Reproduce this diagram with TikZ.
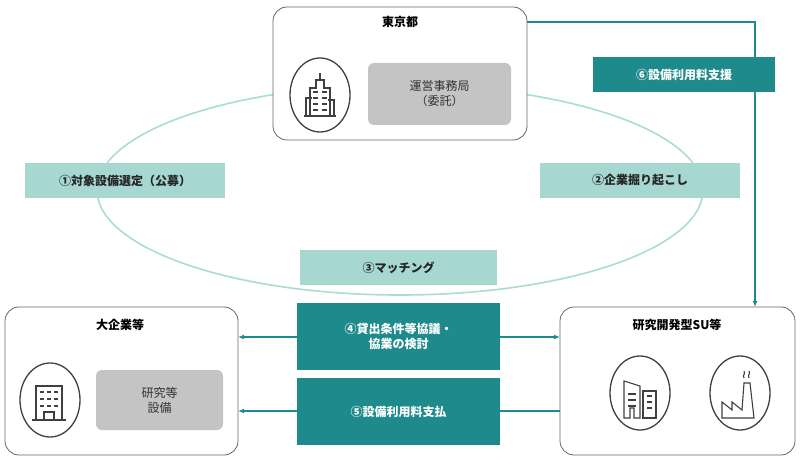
\documentclass[tikz,border=0pt]{standalone}
\usepackage{fontspec}
\setmainfont{Noto Sans CJK JP}
\usetikzlibrary{arrows.meta}
\definecolor{dteal}{HTML}{1E8A8C}
\definecolor{lteal}{HTML}{A6D8D1}
\definecolor{ell}{HTML}{A9DCD5}
\definecolor{gbox}{HTML}{C4C4C4}
\definecolor{ic}{HTML}{404040}
\begin{document}
\begin{tikzpicture}[x=1pt,y=-1pt,
 party/.style={draw=gray!80!black,rounded corners=14pt,line width=0.8pt},
 lbl/.style={fill=lteal,minimum height=35pt,font=\fontsize{12}{14}\selectfont\bfseries,text=black!85},
 dbox/.style={fill=dteal,text=white,font=\fontsize{12}{15}\selectfont\bfseries,align=center},
 gray box/.style={fill=gbox,rounded corners=6pt,align=center,font=\fontsize{12}{15}\selectfont,text=black!80},
 icon/.style={draw=ic,line width=1.3pt},
 conn/.style={draw=dteal,line width=1.2pt,-{Latex[length=6pt,width=5pt]}},
 ttl/.style={font=\fontsize{12}{14}\selectfont\bfseries}]
\useasboundingbox (0,0) rectangle (800,465);
% big ellipse
\draw[ell,line width=1.6pt] (400,190) ellipse [x radius=303,y radius=105];
% Tokyo
\draw[party,fill=white] (273,7) rectangle (527,140);
\node[ttl] (tokyo) at (400,22) {東京都};
\node[gray box,minimum width=143pt,minimum height=62pt] (jimu) at (439.5,94) {運営事務局\\（委託）};
\draw[icon] (320,95) ellipse [x radius=30,y radius=37];
\begin{scope}[icon,line width=1.1pt]
\draw (310,116) -- (310,88) -- (316,88) -- (316,80) -- (324,80) -- (324,88) -- (330,88) -- (330,116);
\draw (320,80) -- (320,73);
\draw (306,116) -- (306,98) -- (312,98); \draw (334,116)--(334,100)--(328,100);
\draw (304,116) -- (336,116);
\foreach \yy in {92,98,104,110}{\draw (313,\yy)--(318,\yy); \draw (322,\yy)--(327,\yy);}
\end{scope}
% labels
\node[lbl,minimum width=200pt] (l1) at (125,180.5) {①対象設備選定（公募）};
\node[lbl,minimum width=200pt] (l2) at (640,180.5) {②企業掘り起こし};
\node[lbl,minimum width=197pt] (l3) at (398.5,267.5) {③マッチング};
% left party
\draw[party,fill=white] (5,307) rectangle (238,455);
\coordinate (leftE4) at (238,337);
\coordinate (leftE5) at (238,411);
\node[ttl] (big) at (120,325) {大企業等};
\node[gray box,minimum width=127pt,minimum height=60pt] (setsubi) at (159.5,400) {研究等\\設備};
\draw[icon] (50,400) ellipse [x radius=30,y radius=37];
\begin{scope}[icon,line width=1.1pt]
\draw (36,420) -- (36,386) -- (62,386) -- (62,420);
\draw (32,420) -- (66,420);
\draw (44,420) -- (44,412) -- (54,412) -- (54,420);
\foreach \yy in {392,399,406}{\foreach \xx in {40,47,54}{\draw (\xx,\yy)--++(4,0);}}
\end{scope}
% right party
\draw[party,fill=white] (560,307) rectangle (795,455);
\coordinate (rightE4) at (560,337);
\coordinate (rightE5) at (560,411);
\coordinate (suTop) at (755,307);
\node[ttl] (su) at (677,325) {研究開発型SU等};
\draw[icon] (640,393) ellipse [x radius=30,y radius=37];
\draw[icon] (740,393) ellipse [x radius=30,y radius=37];
\begin{scope}[icon,line width=1.1pt]
\draw (624,418) -- (624,381) -- (640,386) -- (640,418) -- (634,418) -- (634,408) -- (630,408) -- (630,418) -- cycle;
\draw (643,418) -- (643,391) -- (656,391) -- (656,418) -- cycle;
\foreach \yy in {394,400,406}{\draw (628,\yy)--(636,\yy);}
\foreach \yy in {396,402,408}{\draw (647,\yy)--(652,\yy);}
\draw (722,418) -- (722,402) -- (732,410) -- (732,402) -- (742,410) -- (744,383) -- (750,383) -- (754,418) -- cycle;
\draw (744,378) .. controls (742,375) and (746,374) .. (744,371);
\draw (749,378) .. controls (747,375) and (751,374) .. (749,371);
\end{scope}
% middle boxes and arrows
\draw[conn,{Latex[length=6pt,width=5pt]}-{Latex[length=6pt,width=5pt]}] (leftE4) -- (rightE4);
\draw[conn] (rightE5) -- (leftE5);
\node[dbox,minimum width=203pt,minimum height=67pt] (n4) at (398.5,336.5) {④貸出条件等協議・\\協業の検討};
\node[dbox,minimum width=203pt,minimum height=67pt] (n5) at (398.5,411.5) {⑤設備利用料支払};
% support arrow
\coordinate (tokyoE) at (527,22);
\draw[conn] (tokyoE) -- (755,22) -- (suTop);
\node[dbox,minimum width=182pt,minimum height=35pt] (n6) at (684,74.5) {⑥設備利用料支援};
\end{tikzpicture}
\end{document}
